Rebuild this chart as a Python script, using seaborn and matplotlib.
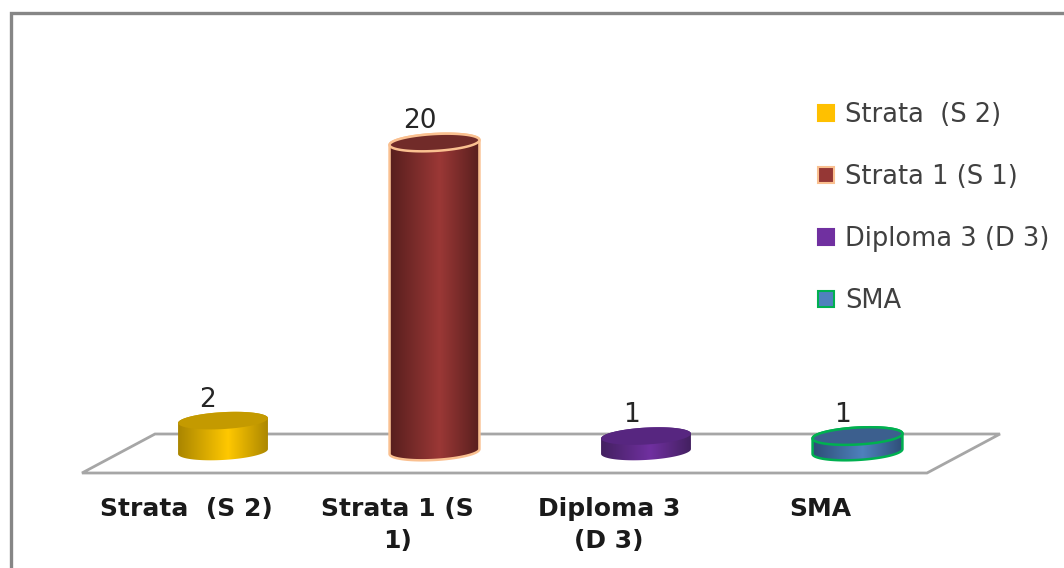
import numpy as np
import pandas as pd
import matplotlib
matplotlib.use("Agg")
import matplotlib.pyplot as plt
import seaborn as sns
from matplotlib.colors import LinearSegmentedColormap
from matplotlib.lines import Line2D
from matplotlib.patches import Patch, Polygon
from matplotlib.transforms import Affine2D

categories = ["Strata  (S 2)", "Strata 1 (S 1)", "Diploma 3 (D 3)", "SMA"]
tick_labels = ["Strata  (S 2)", "Strata 1 (S\n1)", "Diploma 3\n(D 3)", "SMA"]
values = [2, 20, 1, 1]

mid_colors = ["#FFC800", "#9B3836", "#7030A0", "#4F81BD"]
dark_colors = ["#A88400", "#561E1D", "#42205F", "#2D4D75"]
top_colors = ["#C49A00", "#712B29", "#572680", "#3C5F8E"]
edge_colors = ["none", "#FAC090", "none", "#00B050"]
legend_faces = ["#FFC000", "#953735", "#7030A0", "#4F81BD"]

W, H = 1064, 568
BAR_STEP = 211.5      # px between categories
PX_PER_UNIT = 15.45   # px per value unit
ELL_A, ELL_B, TILT = 45.0, 8.5, np.radians(3)

sns.set_theme(style="white")
plt.rcParams["font.family"] = ["DejaVu Sans"]

fig = plt.figure(figsize=(W / 100, H / 100), dpi=100, facecolor="white")
ax = fig.add_axes([0, (H - 473) / H, 1, 473 / H])
px = Affine2D().scale(1, -1).translate(0, H)  # reference pixel coords

df = pd.DataFrame({"category": categories, "value": values})
sns.barplot(data=df, x="category", y="value", hue="category", palette=mid_colors,
            dodge=False, legend=False, width=90 / BAR_STEP, saturation=1, ax=ax, zorder=2)
bars = list(ax.patches)

xlim = (-223 / BAR_STEP, (W - 223) / BAR_STEP)
ylim = ((451.5 - 473) / PX_PER_UNIT, 451.5 / PX_PER_UNIT)


def ellipse(cx, cy, t):
    # tilted ellipse in data units, the sizes are in px
    dx = ELL_A * np.cos(t) * np.cos(TILT) + ELL_B * np.sin(t) * np.sin(TILT)
    dy = ELL_A * np.cos(t) * np.sin(TILT) + ELL_B * np.sin(t) * np.cos(TILT)
    return np.column_stack([cx + dx / BAR_STEP, cy + dy / PX_PER_UNIT])


# floor of the 3D chart
ax.add_patch(Polygon([(82, 473), (155, 434), (1000, 434), (927, 473)], closed=True,
                     transform=px, facecolor="white", edgecolor="#A6A6A6", lw=2,
                     clip_on=False, zorder=1))

for i, bar in enumerate(bars):
    cx = bar.get_x() + bar.get_width() / 2
    top = bar.get_height()
    bar.set_visible(False)

    body = np.vstack([ellipse(cx, 0, np.linspace(np.pi, 2 * np.pi, 60)),
                      ellipse(cx, top, np.linspace(0, np.pi, 60))])
    cmap = LinearSegmentedColormap.from_list(
        "cyl", [(0, dark_colors[i]), (0.55, mid_colors[i]), (1, dark_colors[i])])
    grad = np.linspace(0, 1, 256).reshape(1, -1)
    im = ax.imshow(grad, cmap=cmap, aspect="auto", zorder=3, vmin=0, vmax=1,
                   extent=(cx - 46 / BAR_STEP, cx + 46 / BAR_STEP,
                           -12 / PX_PER_UNIT, top + 12 / PX_PER_UNIT))
    outline = Polygon(body, closed=True, facecolor="none", edgecolor=edge_colors[i],
                      lw=1.8, zorder=4)
    ax.add_patch(outline)
    im.set_clip_path(outline)
    ax.add_patch(Polygon(ellipse(cx, top, np.linspace(0, 2 * np.pi, 120)), closed=True,
                         facecolor=top_colors[i], edgecolor=edge_colors[i], lw=1.8, zorder=5))
    ax.annotate(str(values[i]), (cx, top), xytext=(-15 * 0.72, 21 * 0.72),
                textcoords="offset points", ha="center", va="center",
                fontsize=19, color="#262626", zorder=6)

ax.set_xlim(xlim)
ax.set_ylim(ylim)
ax.set_xlabel("")
ax.set_ylabel("")
ax.set_yticks([])
ax.set_xticks(range(len(categories)))
ax.set_xticklabels(tick_labels, fontsize=18, fontweight="bold", color="#1A1A1A",
                   linespacing=1.42)
ax.tick_params(axis="x", length=0, pad=17)
for label in ax.get_xticklabels():
    label.set_transform(label.get_transform() + Affine2D().translate(-37, 0))
sns.despine(ax=ax, left=True, bottom=True)

handles = [Patch(facecolor=f, edgecolor=e if e != "none" else f, lw=1.5)
           for f, e in zip(legend_faces, edge_colors)]
ax.legend(handles, categories, loc="upper left", bbox_to_anchor=(818, 102),
          bbox_transform=px, frameon=False, fontsize=18.5, labelcolor="#404040",
          handlelength=0.62, handleheight=0.62, handletextpad=0.43,
          labelspacing=1.4, borderpad=0, borderaxespad=0)

# chart area border, cut by the image on the right and bottom
fig.add_artist(Line2D([10.5, 10.5, W], [H, 12.5, 12.5], transform=px,
                      color="#868686", lw=2.4, solid_joinstyle="miter"))

plt.savefig("out.png", dpi=100, facecolor="white")
